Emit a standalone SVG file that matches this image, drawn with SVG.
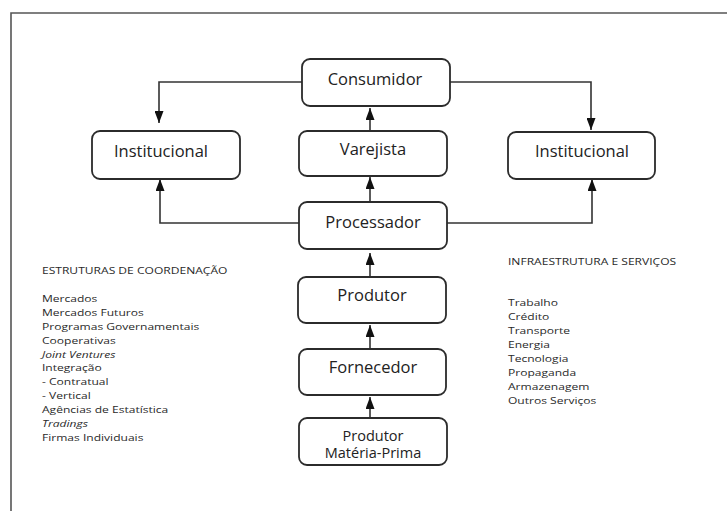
<svg xmlns="http://www.w3.org/2000/svg" width="727" height="511" viewBox="0 0 727 511">
<style>
.box{fill:#fff;stroke:#2b2b2b;stroke-width:1.8}
.lbl{font-family:"Open Sans","Liberation Sans",sans-serif;font-size:16.5px;fill:#222;text-anchor:middle}
.sm{font-size:14.5px}
.con{fill:none;stroke:#333;stroke-width:1.6}
.lst{font-family:"Open Sans","Liberation Sans",sans-serif;font-size:9.5px;fill:#2a2a2a}
.frame{fill:none;stroke:#555;stroke-width:1.6}
</style>
<defs>
<marker id="ah" viewBox="0 0 12 9" refX="12" refY="4.5" markerWidth="12" markerHeight="9" markerUnits="userSpaceOnUse" orient="auto">
<path d="M0,0 L12,4.5 L0,9 Z" fill="#111"/>
</marker>
</defs>
<rect width="727" height="511" fill="#fff"/>
<path class="frame" d="M11,511 V13 H727"/>
<g id="connectors">
<path class="con" d="M302,82 H159 V123" marker-end="url(#ah)"/>
<path class="con" d="M450,82 H591 V130" marker-end="url(#ah)"/>
<path class="con" d="M299,223 H160 V179" marker-end="url(#ah)"/>
<path class="con" d="M447,223 H592 V179" marker-end="url(#ah)"/>
<path class="con" d="M370,131 V108" marker-end="url(#ah)"/>
<path class="con" d="M370,202 V177" marker-end="url(#ah)"/>
<path class="con" d="M370,277 V253" marker-end="url(#ah)"/>
<path class="con" d="M370,349 V325" marker-end="url(#ah)"/>
<path class="con" d="M370,418 V397" marker-end="url(#ah)"/>
</g>
<g id="consumidor"><rect class="box" x="302" y="59" width="148" height="47" rx="8"/><text class="lbl" x="375" y="85">Consumidor</text></g>
<g id="institucional-esq"><rect class="box" x="92" y="131" width="148" height="48" rx="8"/><text class="lbl" x="161" y="157">Institucional</text></g>
<g id="varejista"><rect class="box" x="299" y="131" width="148" height="45" rx="8"/><text class="lbl" x="373" y="155">Varejista</text></g>
<g id="institucional-dir"><rect class="box" x="508" y="132" width="147" height="47" rx="8"/><text class="lbl" x="582" y="157">Institucional</text></g>
<g id="processador"><rect class="box" x="299" y="202" width="148" height="47" rx="8"/><text class="lbl" x="373" y="228">Processador</text></g>
<g id="produtor"><rect class="box" x="298" y="277" width="148" height="46" rx="8"/><text class="lbl" x="372" y="301">Produtor</text></g>
<g id="fornecedor"><rect class="box" x="299" y="349" width="147" height="46" rx="8"/><text class="lbl" x="373" y="373">Fornecedor</text></g>
<g id="produtor-materia-prima"><rect class="box" x="299" y="418" width="148" height="47" rx="8"/><text class="lbl sm" x="373" y="440.5">Produtor</text><text class="lbl sm" x="373" y="458">Matéria-Prima</text></g>
<g id="estruturas" transform="translate(42,0) scale(1.27,1)">
<text class="lst" x="0" y="274">ESTRUTURAS DE COORDENAÇÃO</text>
<text class="lst" x="0" y="302">Mercados</text>
<text class="lst" x="0" y="315.9">Mercados Futuros</text>
<text class="lst" x="0" y="329.8">Programas Governamentais</text>
<text class="lst" x="0" y="343.7">Cooperativas</text>
<text class="lst" x="0" y="357.6" font-style="italic">Joint Ventures</text>
<text class="lst" x="0" y="371.5">Integração</text>
<text class="lst" x="0" y="385.4">- Contratual</text>
<text class="lst" x="0" y="399.3">- Vertical</text>
<text class="lst" x="0" y="413.2">Agências de Estatística</text>
<text class="lst" x="0" y="427.1" font-style="italic">Tradings</text>
<text class="lst" x="0" y="441">Firmas Individuais</text>
</g>
<g id="infraestrutura" transform="translate(508,0) scale(1.27,1)">
<text class="lst" x="0" y="265.5">INFRAESTRUTURA E SERVIÇOS</text>
<text class="lst" x="0" y="306.5">Trabalho</text>
<text class="lst" x="0" y="320.5">Crédito</text>
<text class="lst" x="0" y="334.5">Transporte</text>
<text class="lst" x="0" y="348.5">Energia</text>
<text class="lst" x="0" y="362.5">Tecnologia</text>
<text class="lst" x="0" y="376.5">Propaganda</text>
<text class="lst" x="0" y="390.5">Armazenagem</text>
<text class="lst" x="0" y="404.5">Outros Serviços</text>
</g>
</svg>
